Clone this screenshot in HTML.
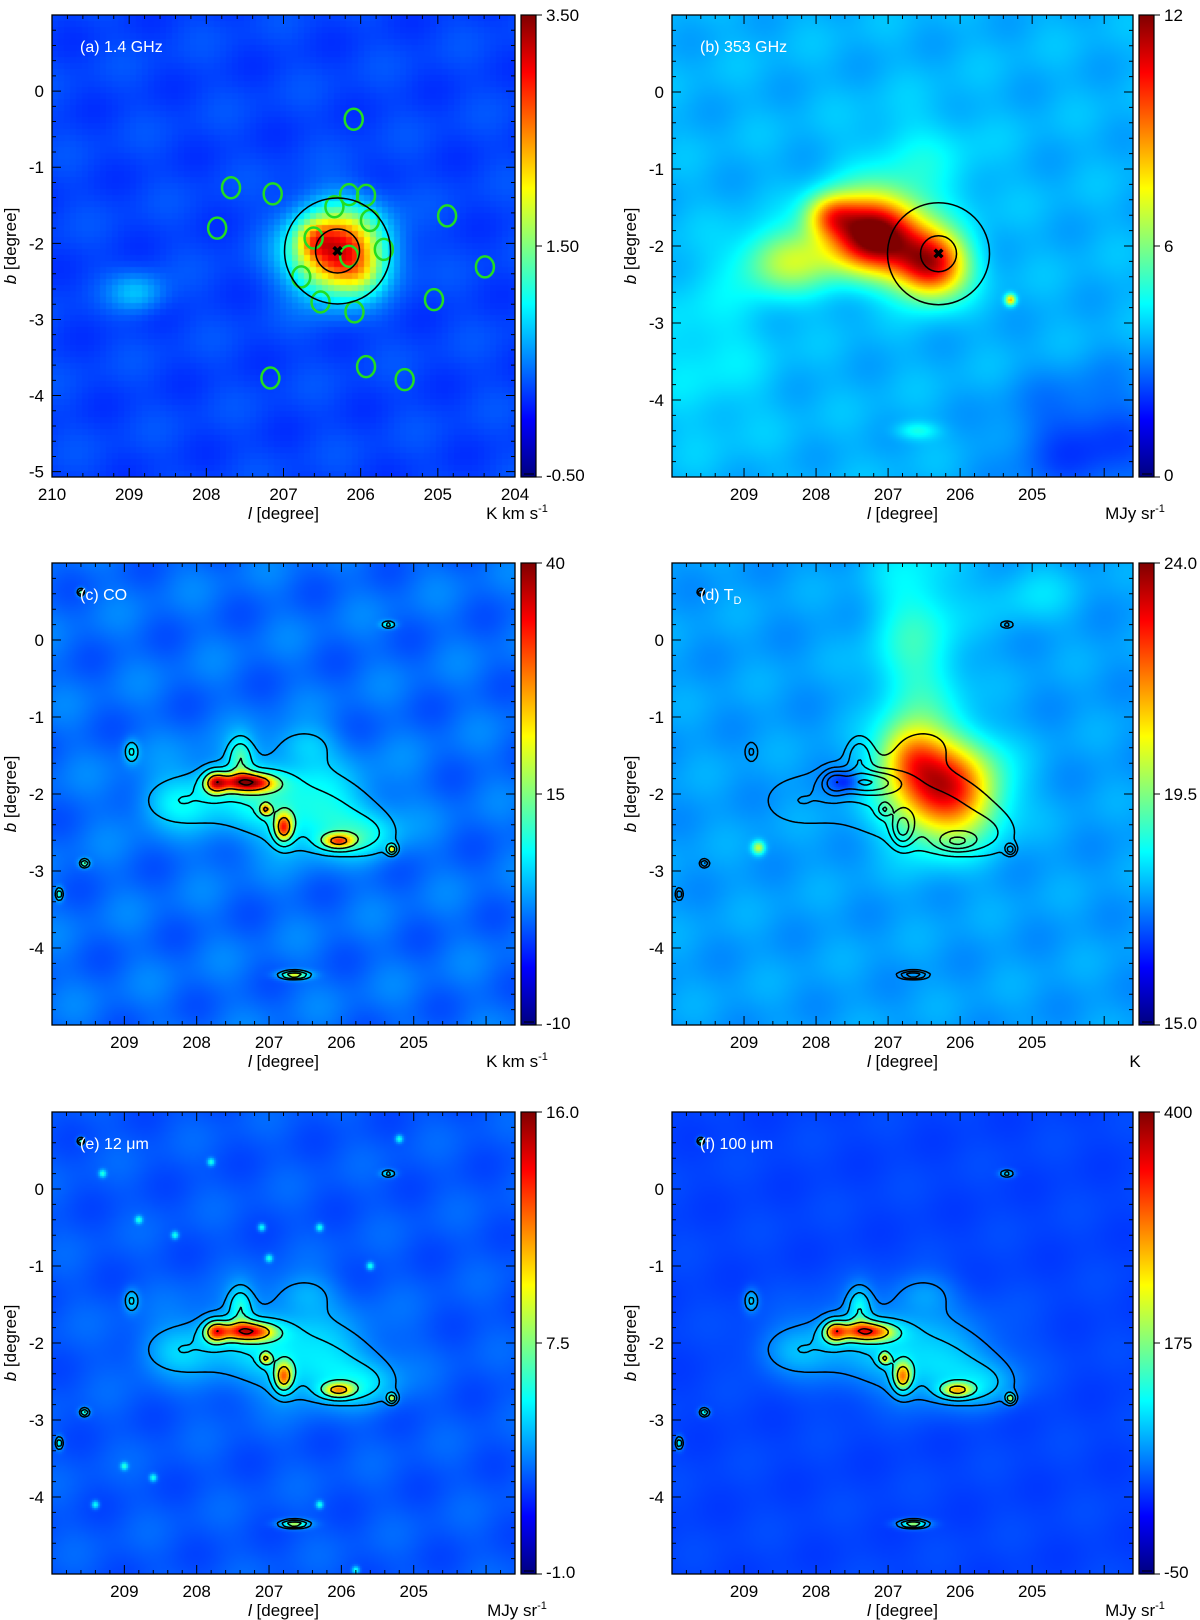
<!DOCTYPE html>
<html><head><meta charset="utf-8">
<style>
body{margin:0;background:#fff;width:1200px;height:1620px;position:relative;overflow:hidden;font-family:"Liberation Sans",sans-serif;}
canvas{position:absolute;}
#ov{position:absolute;left:0;top:0;}
</style></head>
<body>
<svg id="ov" width="1200" height="1620"></svg>
<script>
// ---------- data ----------
const aBlobs=[[206.3,-2.1,0.4,0.38,0.72],[206.6,-1.95,0.15,0.15,0.15],[208.9,-2.65,0.25,0.18,0.12],[206.0,-2.4,0.2,0.2,0.1]];
const aGreenCircles=[[206.09,-0.37],[207.68,-1.27],[207.14,-1.35],[207.86,-1.80],[206.15,-1.36],[205.93,-1.37],[206.34,-1.52],[205.88,-1.70],[204.88,-1.64],[206.61,-1.93],[205.70,-2.08],[206.15,-2.17],[204.39,-2.31],[206.77,-2.44],[205.05,-2.74],[206.52,-2.77],[206.08,-2.90],[205.93,-3.62],[207.17,-3.77],[205.43,-3.79]];
const sourcePos=[206.3,-2.1];
const bBlobs=[[207.2,-1.85,0.45,0.35,0.75],[206.4,-2.25,0.35,0.3,0.6],[207.8,-1.6,0.25,0.2,0.3],[208.4,-2.2,0.45,0.3,0.25],[205.3,-2.7,0.05,0.05,0.4],[206.6,-1.0,0.6,0.5,0.08],[204.2,-4.6,0.8,0.6,-0.12],[209.5,-3.3,0.6,0.8,0.06],[206.6,-4.4,0.2,0.08,0.1]];
const coBlobs=[[207.0,-2.0,0.9,0.4,0.55],[206.2,-2.4,0.55,0.3,0.45],[205.6,-2.55,0.3,0.2,0.35],[207.3,-1.85,0.3,0.1,1.1],[207.75,-1.85,0.12,0.12,0.8],[206.8,-2.45,0.1,0.15,0.9],[206.05,-2.62,0.18,0.08,0.8],[207.4,-1.5,0.12,0.18,0.6],[208.3,-2.1,0.35,0.22,0.35],[206.5,-1.35,0.3,0.18,0.3],[207.05,-2.2,0.06,0.06,0.7],[206.65,-4.35,0.15,0.04,1.1],[209.6,0.62,0.035,0.035,0.9],[205.35,0.2,0.07,0.035,0.7],[209.55,-2.9,0.05,0.04,0.9],[209.9,-3.3,0.04,0.06,0.8],[205.3,-2.72,0.05,0.05,0.9],[208.9,-1.45,0.07,0.1,0.6]];
const contourLevels=[0.3,0.55,0.85,1.2,1.6];
const tdBlobs=[[206.2,-1.95,0.5,0.45,0.6],[206.7,-1.5,0.3,0.3,0.25],[206.6,-0.2,0.45,1.1,0.14],[208.8,-2.7,0.06,0.06,0.3],[207.6,-1.85,0.15,0.1,-0.12],[205.0,0.6,0.4,0.3,0.06]];
const irSources=[[209.3,0.2],[208.3,-0.6],[207.8,0.35],[207.0,-0.9],[207.1,-0.5],[206.3,-0.5],[208.8,-0.4],[209.4,-4.1],[208.6,-3.75],[206.3,-4.1],[205.8,-4.95],[205.2,0.65],[209.0,-3.6],[205.6,-1.0]];
const cbLabels={a:["3.50","1.50","-0.50"],b:["12","6","0"],c:["40","15","-10"],d:["24.0","19.5","15.0"],e:["16.0","7.5","-1.0"],f:["400","175","-50"]};
const units={a:"K km s",b:"MJy sr",c:"K km s",d:"K",e:"MJy sr",f:"MJy sr"};
const titles={a:"(a) 1.4 GHz",b:"(b) 353 GHz",c:"(c) CO",d:"(d) T",e:"(e) 12 \u03bcm",f:"(f) 100 \u03bcm"};

// ---------- helpers ----------
const NS="http://www.w3.org/2000/svg";
const ov=document.getElementById('ov');
function cl(v){return v<0?0:v>1?1:v;}
function jet(t){t=cl(t);return [255*cl(1.5-Math.abs(4*t-3)),255*cl(1.5-Math.abs(4*t-2)),255*cl(1.5-Math.abs(4*t-1))];}
function sumBlobs(bl,l,b){let s=0;for(const k of bl){const dl=(l-k[0])/k[2],db=(b-k[1])/k[3];s+=k[4]*Math.exp(-0.5*(dl*dl+db*db));}return s;}
function el(tag,attrs,parent){const e=document.createElementNS(NS,tag);for(const k in attrs)e.setAttribute(k,attrs[k]);(parent||ov).appendChild(e);return e;}
function coField(l,b){return sumBlobs(coBlobs,l,b);}
function tex(l,b){return 0.02*Math.sin(l*3.7+b*2.3)*Math.cos(b*4.1-l*1.9);}
function coCol(f,bg,k1,k2){return bg+k1*f+k2*Math.max(0,f-0.8);}

const panels=[
 {id:'a',x:52,y:15,w:463,h:462,lL:210,lR:204,bT:1.0,bB:-5.07,xt:[210,209,208,207,206,205,204],yt:[0,-1,-2,-3,-4,-5],
  f:(l,b)=>0.19+sumBlobs(aBlobs,l,b)+tex(l,b),cont:false},
 {id:'b',x:672,y:15,w:461,h:462,lL:210,lR:203.6,bT:1.0,bB:-5.0,xt:[209,208,207,206,205],yt:[0,-1,-2,-3,-4],
  f:(l,b)=>0.3+sumBlobs(bBlobs,l,b)+tex(l,b),cont:false},
 {id:'c',x:52,y:563,w:463,h:462,lL:210,lR:203.6,bT:1.0,bB:-5.0,xt:[209,208,207,206,205],yt:[0,-1,-2,-3,-4],
  f:(l,b)=>coCol(coField(l,b),0.23,0.25,0.45)+tex(l,b)*1.5,cont:true},
 {id:'d',x:672,y:563,w:461,h:462,lL:210,lR:203.6,bT:1.0,bB:-5.0,xt:[209,208,207,206,205],yt:[0,-1,-2,-3,-4],
  f:(l,b)=>0.28+sumBlobs(tdBlobs,l,b)+tex(l,b),cont:true},
 {id:'e',x:52,y:1112,w:463,h:462,lL:210,lR:203.6,bT:1.0,bB:-5.0,xt:[209,208,207,206,205],yt:[0,-1,-2,-3,-4],
  f:(l,b)=>{let s=0;for(const p of irSources)s+=0.2*Math.exp(-0.5*(((l-p[0])/0.035)**2+((b-p[1])/0.035)**2));return coCol(coField(l,b),0.21,0.22,0.42)+s+tex(l,b);},cont:true},
 {id:'f',x:672,y:1112,w:461,h:462,lL:210,lR:203.6,bT:1.0,bB:-5.0,xt:[209,208,207,206,205],yt:[0,-1,-2,-3,-4],
  f:(l,b)=>coCol(coField(l,b),0.19,0.22,0.4)+tex(l,b)*0.5,cont:true}
];

for(const P of panels){
 const X=l=>P.x+(P.lL-l)/(P.lL-P.lR)*P.w;
 const Y=b=>P.y+(P.bT-b)/(P.bT-P.bB)*P.h;
 const Linv=x=>P.lL-(x-P.x)/P.w*(P.lL-P.lR);
 const Binv=y=>P.bT-(y-P.y)/P.h*(P.bT-P.bB);
 const cv=document.createElement('canvas');
 
 
 cv.width=P.w;cv.height=P.h;cv.style.left=P.x+'px';cv.style.top=P.y+'px';
 document.body.insertBefore(cv,ov);
 const ctx=cv.getContext('2d');const img=ctx.createImageData(P.w,P.h);
 const step=P.id==='a'?6:2;
 for(let j=0;j<P.h;j+=step)for(let i=0;i<P.w;i+=step){
  const c=jet(P.f(Linv(P.x+i+step/2),Binv(P.y+j+step/2)));
  for(let dj=0;dj<step&&j+dj<P.h;dj++)for(let di=0;di<step&&i+di<P.w;di++){const k=((j+dj)*P.w+i+di)*4;img.data[k]=c[0];img.data[k+1]=c[1];img.data[k+2]=c[2];img.data[k+3]=255;}
 }
 ctx.putImageData(img,0,0);
 const g=el('g',{});
 
 
 if(P.cont){
  const s=3,nx=Math.ceil(P.w/s)+1,ny=Math.ceil(P.h/s)+1,F=[];
  for(let j=0;j<ny;j++){F[j]=[];for(let i=0;i<nx;i++)F[j][i]=coField(Linv(P.x+i*s),Binv(P.y+j*s));}
  let d='';
  for(const lv of contourLevels){
   for(let j=0;j<ny-1;j++)for(let i=0;i<nx-1;i++){
    const v=[F[j][i],F[j][i+1],F[j+1][i+1],F[j+1][i]];
    const px=[[0,0],[1,0],[1,1],[0,1]];const pts=[];
    for(let e=0;e<4;e++){const a=v[e],bq=v[(e+1)%4];if((a>=lv)!==(bq>=lv)){const t=(lv-a)/(bq-a);const p0=px[e],p1=px[(e+1)%4];pts.push([P.x+(i+p0[0]+t*(p1[0]-p0[0]))*s,P.y+(j+p0[1]+t*(p1[1]-p0[1]))*s]);}}
    for(let q=0;q+1<pts.length;q+=2)d+='M'+pts[q][0].toFixed(1)+' '+pts[q][1].toFixed(1)+'L'+pts[q+1][0].toFixed(1)+' '+pts[q+1][1].toFixed(1);
   }
  }
  const cp=el('path',{d:d,stroke:'#000','stroke-width':1.5,fill:'none'},g);
  
  
 }
 if(P.id==='a'){
  for(const c of aGreenCircles){const gc=el('ellipse',{cx:X(c[0]),cy:Y(c[1]),rx:9,ry:10.5,fill:'none',stroke:'#22dd22','stroke-width':2.5},g);
   
   }
 }
 if(P.id==='a'||P.id==='b'){
  const cx=X(sourcePos[0]),cy=Y(sourcePos[1]);
  const big=el('circle',{cx:cx,cy:cy,r:P.id==='a'?53:51,fill:'none',stroke:'#000','stroke-width':1.5},g);
  
  
  const sm=el('circle',{cx:cx,cy:cy,r:P.id==='a'?22:18,fill:'none',stroke:'#000','stroke-width':1.5},g);
  
  
  const st=el('text',{x:cx,y:cy+5,'text-anchor':'middle','font-size':14,'font-weight':'bold',fill:'#000'},g);st.textContent='\u2716';
  
  
 }
 const fr=el('rect',{x:P.x,y:P.y,width:P.w,height:P.h,fill:'none',stroke:'#000','stroke-width':1.3},g);
 
 
 let td='';
 for(let l=Math.ceil(Math.min(P.lL,P.lR)*5)/5;l<=Math.max(P.lL,P.lR)+1e-6;l+=0.2){const x=X(l);const maj=Math.abs(l-Math.round(l))<0.01;const t=maj?9:4;td+=`M${x} ${P.y+P.h}v${-t}M${x} ${P.y}v${t}`;}
 for(let b=Math.ceil(P.bB*5)/5;b<=P.bT+1e-6;b+=0.2){const y=Y(b);const maj=Math.abs(b-Math.round(b))<0.01;const t=maj?9:4;td+=`M${P.x} ${y}h${t}M${P.x+P.w} ${y}h${-t}`;}
 const tp=el('path',{d:td,stroke:'#000','stroke-width':1},g);
 
 
 for(const l of P.xt){const t=el('text',{x:X(l),y:P.y+P.h+23,'text-anchor':'middle','font-size':17},g);t.textContent=l;
  
  }
 for(const b of P.yt){const t=el('text',{x:P.x-8,y:Y(b)+6,'text-anchor':'end','font-size':17},g);t.textContent=b;
  
  }
 const xl=el('text',{x:P.x+P.w/2,y:P.y+P.h+42,'text-anchor':'middle','font-size':17},g);
 xl.innerHTML='<tspan font-style="italic">l</tspan> [degree]';
 
 
 const yl=el('text',{x:0,y:0,'text-anchor':'middle','font-size':17,transform:`translate(${P.x-36},${P.y+P.h/2}) rotate(-90)`},g);
 yl.innerHTML='<tspan font-style="italic">b</tspan> [degree]';
 
 
 const pt=el('text',{x:P.x+28,y:P.y+37,'font-size':16,fill:'#fff'},g);
 pt.textContent=titles[P.id];
 if(P.id==='d'){const sb=el('tspan',{'font-size':11,dy:4},pt);sb.textContent='D';}
 
 
 const cbx=P.x+P.w+6,cbw=15;
 const defs=el('defs',{},g);const lg=el('linearGradient',{id:'cg'+P.id,x1:0,y1:1,x2:0,y2:0},defs);
 for(let k=0;k<=8;k++){const c=jet(k/8);el('stop',{offset:k/8,'stop-color':`rgb(${c.map(Math.round).join(',')})`},lg);}
 const cb=el('rect',{x:cbx,y:P.y,width:cbw,height:P.h,fill:`url(#cg${P.id})`,stroke:'#000','stroke-width':1.2},g);
 
 
 el('path',{d:`M${cbx+cbw} ${P.y}h6M${cbx+cbw} ${P.y+P.h/2}h6M${cbx+cbw} ${P.y+P.h}h6M${cbx+3} ${P.y+P.h-3}h10`,stroke:'#000','stroke-width':1},g);
 const lbs=cbLabels[P.id];[P.y+6,P.y+P.h/2+6,P.y+P.h+4].forEach((yy,k)=>{const t=el('text',{x:cbx+cbw+10,y:yy,'font-size':17},g);t.textContent=lbs[k];
  
  });
 const u=el('text',{x:cbx-4,y:P.y+P.h+42,'text-anchor':'middle','font-size':17},g);
 u.textContent=units[P.id];
 if(P.id!=='d'){const sp=el('tspan',{'font-size':11,dy:-7},u);sp.textContent='-1';}
 
 
}
</script>
</body></html>
